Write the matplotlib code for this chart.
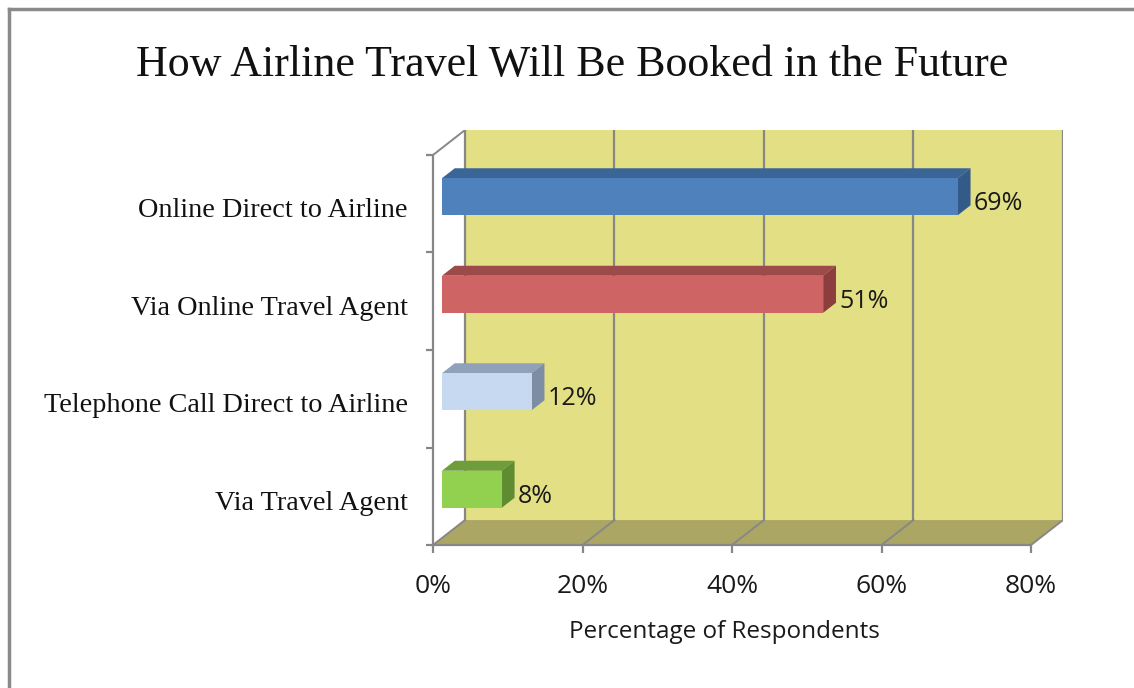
import matplotlib
matplotlib.use("Agg")
import matplotlib.pyplot as plt
from matplotlib.lines import Line2D

# ---- data ----
categories = ["Via Travel Agent", "Telephone Call Direct to Airline",
              "Via Online Travel Agent", "Online Direct to Airline"]
values = [8, 12, 51, 69]
front_colors = ["#92D050", "#C6D9F1", "#CF6464", "#4F81BD"]
top_colors = ["#6E9E3C", "#8FA2BA", "#9C4A4A", "#3C6597"]
side_colors = ["#5F8C32", "#7D8DA3", "#8C3E3E", "#335A88"]
xticks = [0, 20, 40, 60, 80]
xtick_labels = ["0%", "20%", "40%", "60%", "80%"]
title = "How Airline Travel Will Be Booked in the Future"
xlabel = "Percentage of Respondents"

# ---- oblique-projection parameters (depth offsets in data units) ----
DX = 4.28    # x shift of the back wall (in %)
DY = 0.256   # y shift of the back wall (in category units)
D0, D1 = 0.28, 0.68   # bar front/back depth fractions
BAR_H = 0.38
XMAX = 80
N = len(categories)
LABEL_SHIFT = 0.07   # category labels sit slightly below band centre


def P(x, y, d):
    return (x + d * DX, y + d * DY)


fig = plt.figure(figsize=(11.34, 6.88), dpi=100)
W, H = 1134, 688
AX_W = (XMAX + DX) * 7.475
AX_H = (N + DY) * 97.5
ax = fig.add_axes([433 / W, 1 - 545 / H, AX_W / W, AX_H / H])
ax.set_xlim(0, XMAX + DX)
ax.set_ylim(0, N + DY)
ax.patch.set_alpha(0)

wall_col = "#E3DF85"
floor_col = "#ACA664"
grid_col = "#878787"

# back wall
wall = [P(0, 0, 1), P(XMAX, 0, 1), P(XMAX, N, 1), P(0, N, 1)]
ax.fill(*zip(*wall), color=wall_col, zorder=1, lw=0)
# floor
floor = [P(0, 0, 0), P(XMAX, 0, 0), P(XMAX, 0, 1), P(0, 0, 1)]
ax.fill(*zip(*floor), color=floor_col, zorder=1, lw=0)

# gridlines on back wall and floor
for t in xticks:
    xs, ys = zip(P(t, 0, 1), P(t, N, 1))
    ax.plot(xs, ys, color=grid_col, lw=1.6, zorder=2)
    xs, ys = zip(P(t, 0, 0), P(t, 0, 1))
    ax.plot(xs, ys, color=grid_col, lw=1.4, zorder=2)
# left side edge top diagonal
xs, ys = zip(P(0, N, 0), P(0, N, 1))
ax.plot(xs, ys, color=grid_col, lw=1.4, zorder=2)

# bars (3D boxes)
for i, (v, fc, tc, sc) in enumerate(zip(values, front_colors, top_colors, side_colors)):
    yc = i + 0.5
    y0, y1 = yc - BAR_H / 2, yc + BAR_H / 2
    top = [P(0, y1, D0), P(v, y1, D0), P(v, y1, D1), P(0, y1, D1)]
    side = [P(v, y0, D0), P(v, y1, D0), P(v, y1, D1), P(v, y0, D1)]
    front = [P(0, y0, D0), P(v, y0, D0), P(v, y1, D0), P(0, y1, D0)]
    ax.fill(*zip(*top), color=tc, lw=0, zorder=3)
    ax.fill(*zip(*side), color=sc, lw=0, zorder=3)
    ax.fill(*zip(*front), color=fc, lw=0, zorder=4)
    lx, _ = P(v, yc, D1)
    ax.annotate(f"{v}%", (lx, yc), xytext=(2.5, 0),
                textcoords="offset points", ha="left", va="center",
                fontsize=18, family="Open Sans", color="#1a1a1a", zorder=5)

# axes styling
for s in ["top", "right"]:
    ax.spines[s].set_visible(False)
ax.spines["bottom"].set_bounds(0, XMAX)
ax.spines["left"].set_bounds(0, N)
for s in ["bottom", "left"]:
    ax.spines[s].set_color(grid_col)
    ax.spines[s].set_linewidth(1.6)
    ax.spines[s].set_zorder(2)

ax.set_xticks(xticks)
ax.set_xticklabels(xtick_labels, family="Open Sans", fontsize=19, color="#1a1a1a")
ax.tick_params(axis="x", length=6, width=1.6, color=grid_col, pad=15)

ax.set_yticks(range(N + 1))
ax.set_yticklabels([])
ax.set_yticks([i + 0.5 - LABEL_SHIFT for i in range(N)], minor=True)
ax.set_yticklabels(categories, minor=True, family="Liberation Serif", fontsize=20.3,
                   color="#111111")
for lab in ax.get_yticklabels(minor=True):
    lab.set_verticalalignment("center")
ax.tick_params(axis="y", which="major", length=5, width=1.6, color=grid_col)
ax.tick_params(axis="y", which="minor", length=0, pad=18)

ax.set_xlabel(xlabel, family="Open Sans", fontsize=17.5, color="#1a1a1a")
ax.xaxis.set_label_coords((724 - 433) / AX_W, -(620 - 545) / AX_H)

fig.text(572 / W, 1 - 65 / H, title, ha="center", va="center",
         family="Liberation Serif", fontsize=31.7, color="#111111")

# outer border (left and top)
fig.add_artist(Line2D([9 / W, 9 / W], [0, 1 - 9 / H], color="#8a8a8a", lw=2.5,
                      transform=fig.transFigure))
fig.add_artist(Line2D([9 / W, 1], [1 - 9 / H, 1 - 9 / H], color="#8a8a8a", lw=2.5,
                      transform=fig.transFigure))

fig.savefig("out.png", dpi=100)
